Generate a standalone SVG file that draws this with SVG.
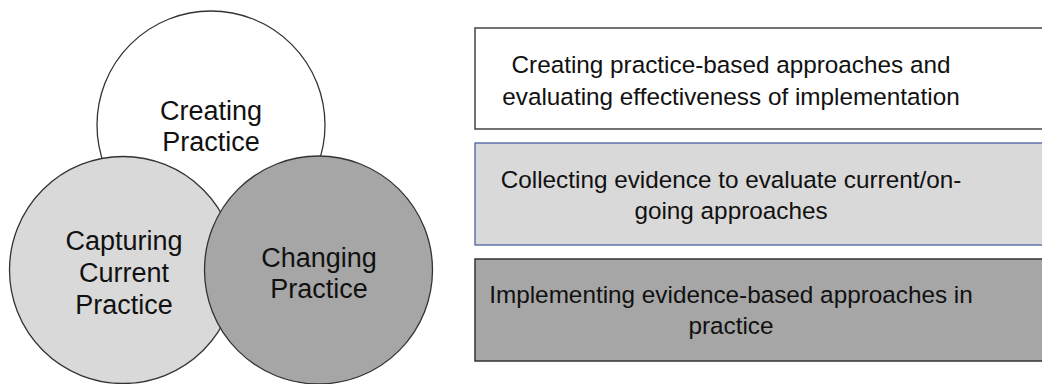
<svg xmlns="http://www.w3.org/2000/svg" width="1042" height="384" viewBox="0 0 1042 384">
<style>
text{font-family:"Liberation Sans",Arial,sans-serif;fill:#111;text-anchor:middle}
.c{font-size:27px}
.b{font-size:24.3px}
.circ{stroke:#333;stroke-width:1.3}
</style>
<rect width="1042" height="384" fill="#fff"/>
<g id="creating-practice">
<circle class="circ" cx="211" cy="125" r="114" fill="#fff"/>
<text class="c" x="211" y="120">Creating</text>
<text class="c" x="211" y="151">Practice</text>
</g>
<g id="capturing-current-practice">
<circle class="circ" cx="123" cy="270" r="113.5" fill="#d9d9d9"/>
<text class="c" x="124" y="250">Capturing</text>
<text class="c" x="124" y="282">Current</text>
<text class="c" x="124" y="314">Practice</text>
</g>
<g id="changing-practice">
<circle class="circ" cx="318.5" cy="270" r="114" fill="#a6a6a6"/>
<text class="c" x="319" y="267">Changing</text>
<text class="c" x="319" y="298">Practice</text>
</g>
<g id="box-creating">
<rect x="475" y="28" width="580" height="101" fill="#fff" stroke="#444" stroke-width="1.5"/>
<text class="b" x="731" y="73">Creating practice-based approaches and</text>
<text class="b" x="731" y="105">evaluating effectiveness of implementation</text>
</g>
<g id="box-collecting">
<rect x="475" y="143" width="580" height="102" fill="#d9d9d9" stroke="#4a62a0" stroke-width="1.3"/>
<text class="b" x="731" y="188">Collecting evidence to evaluate current/on-</text>
<text class="b" x="731" y="219">going approaches</text>
</g>
<g id="box-implementing">
<rect x="475" y="259" width="580" height="102" fill="#a6a6a6" stroke="#333" stroke-width="1.5"/>
<text class="b" x="731" y="303">Implementing evidence-based approaches in</text>
<text class="b" x="731" y="334">practice</text>
</g>
<g id="connectors"/>
</svg>
